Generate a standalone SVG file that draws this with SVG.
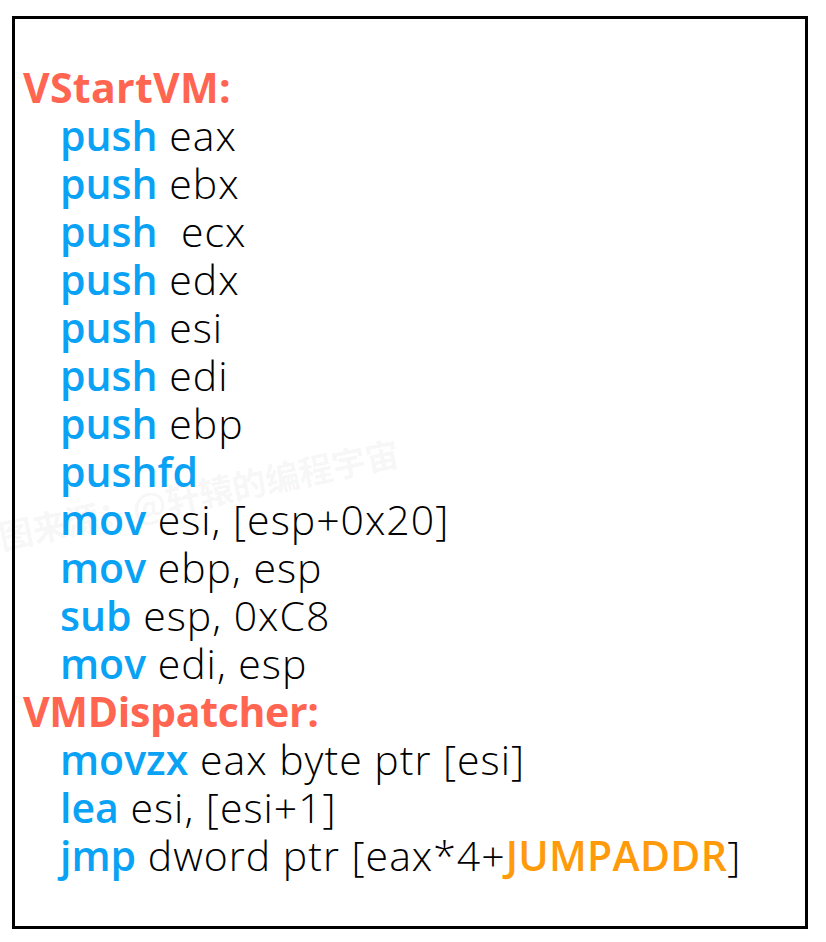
<svg xmlns="http://www.w3.org/2000/svg" width="826" height="942" viewBox="0 0 826 942">
<style>
text{font-family:"Open Sans","Noto Sans","Liberation Sans",sans-serif;font-size:41px;fill:#000;font-weight:300;letter-spacing:1px;white-space:pre}
.lbl{fill:#FF6550;font-weight:700;letter-spacing:0.3px}
.tight{letter-spacing:-0.3px}
.kw{fill:#0AA2F5;font-weight:600;letter-spacing:0}
.addr{fill:#FF9A0A;font-weight:600;letter-spacing:0.3px}
.wm{font-family:"Noto Sans CJK SC",sans-serif;font-size:34px;font-weight:700;fill:#000;fill-opacity:0.05;letter-spacing:0}
</style>
<rect width="826" height="942" fill="#fff"/>
<g id="watermark"><text class="wm" transform="translate(2,550) rotate(-12)">图来源：@轩辕的编程宇宙</text></g>
<rect id="frame" x="13.5" y="17.5" width="793" height="910" fill="none" stroke="#000" stroke-width="3"/>
<g id="code">
<text x="23" y="103" class="lbl">VStartVM:</text>
<text x="60" y="151"><tspan class="kw">push</tspan> eax</text>
<text x="60" y="199"><tspan class="kw">push</tspan> ebx</text>
<text x="60" y="247" xml:space="preserve"><tspan class="kw">push</tspan>  ecx</text>
<text x="60" y="295"><tspan class="kw">push</tspan> edx</text>
<text x="60" y="343"><tspan class="kw">push</tspan> esi</text>
<text x="60" y="391"><tspan class="kw">push</tspan> edi</text>
<text x="60" y="439"><tspan class="kw">push</tspan> ebp</text>
<text x="60" y="487"><tspan class="kw">pushfd</tspan></text>
<text x="60" y="535"><tspan class="kw">mov</tspan> esi, [esp+0x20]</text>
<text x="60" y="583"><tspan class="kw">mov</tspan> ebp, esp</text>
<text x="60" y="631"><tspan class="kw">sub</tspan> esp, 0xC8</text>
<text x="60" y="679"><tspan class="kw">mov</tspan> edi, esp</text>
<text x="23" y="727" class="lbl tight">VMDispatcher:</text>
<text x="60" y="775"><tspan class="kw">movzx</tspan> eax byte ptr [esi]</text>
<text x="60" y="823"><tspan class="kw">lea</tspan> esi, [esi+1]</text>
<text x="60" y="871"><tspan class="kw">jmp</tspan> dword ptr [eax*4+<tspan class="addr">JUMPADDR</tspan>]</text>
</g>
</svg>
